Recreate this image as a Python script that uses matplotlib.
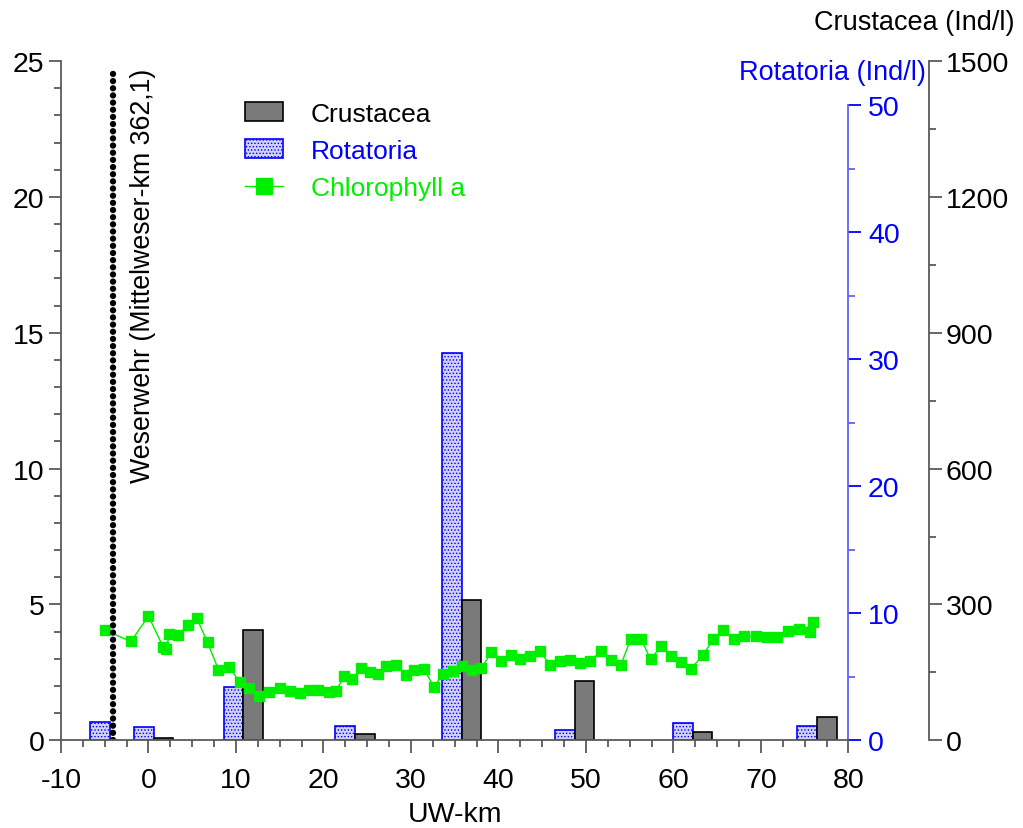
import numpy as np
import matplotlib
matplotlib.use("Agg")
import matplotlib.pyplot as plt
from matplotlib.lines import Line2D
from matplotlib.patches import Patch
from matplotlib.ticker import MultipleLocator

plt.rcParams['font.family'] = ['Liberation Sans', 'DejaVu Sans']
plt.rcParams['hatch.linewidth'] = 0.6
plt.rcParams['axes.unicode_minus'] = False

# sampling stations (UW-km) with zooplankton counts
stations = [-4.4, 0.6, 10.85, 23.6, 35.8, 48.7, 62.2, 76.4]
rotatoria = [1.42, 1.02, 4.2, 1.15, 30.5, 0.79, 1.34, 1.13]
crustacea = [np.nan, 4.4, 244, 14, 310, 130, 19, 51]

# chlorophyll a profile along the river
chl_km = [-5.0, -2.0, 0.0, 1.7, 2.0, 2.4, 3.4, 4.5, 5.5, 6.75,
          8.0, 9.25, 10.45, 11.5, 12.65, 13.8, 15.0, 16.2, 17.3, 18.4,
          19.4, 20.6, 21.45, 22.4, 23.3, 24.3, 25.3, 26.2, 27.2, 28.3,
          29.4, 30.4, 31.5, 32.6, 33.7, 34.75, 35.85, 37.0, 38.05, 39.2,
          40.3, 41.4, 42.5, 43.6, 44.7, 45.9, 47.0, 48.2, 49.3, 50.5,
          51.7, 52.9, 54.0, 55.1, 56.3, 57.4, 58.6, 59.75, 60.9, 62.0,
          63.35, 64.55, 65.7, 66.9, 68.1, 69.45, 70.65, 71.85, 73.1, 74.3,
          75.55, 75.95]
chl_val = [4.05, 3.64, 4.57, 3.42, 3.35, 3.9, 3.89, 4.23, 4.51, 3.6,
           2.6, 2.68, 2.13, 1.92, 1.64, 1.76, 1.91, 1.81, 1.75, 1.84,
           1.85, 1.77, 1.83, 2.37, 2.24, 2.65, 2.5, 2.44, 2.72, 2.76,
           2.39, 2.6, 2.62, 1.97, 2.44, 2.55, 2.75, 2.59, 2.65, 3.25,
           2.93, 3.14, 3.0, 3.09, 3.29, 2.78, 2.93, 2.95, 2.84, 2.93,
           3.27, 2.95, 2.78, 3.72, 3.71, 2.98, 3.47, 3.11, 2.88, 2.63,
           3.13, 3.72, 4.06, 3.71, 3.82, 3.84, 3.81, 3.81, 4.03, 4.08,
           3.98, 4.34]

weir_km = -4.1
weir_top = 24.77

grey = '#5a5a5a'
blue = '#0000ff'
green = '#00ee00'
rot_face = '#d0d0fa'
bw = 2.25

fig = plt.figure(figsize=(10.23, 8.29), dpi=100)
ax = fig.add_axes([0.0596, 0.1058, 0.7698, 0.8194])
ax_rot = ax.twinx()
ax_cru = ax.twinx()

# bars
ax_rot.bar(stations, rotatoria, width=-bw, align='edge', facecolor=rot_face,
           edgecolor=blue, hatch='.....', linewidth=1.2)
ax_cru.bar(stations, crustacea, width=bw, align='edge', facecolor='#7a7a7a',
           edgecolor='black', linewidth=1.2)

# chlorophyll + weir on main axis, kept on top
ax.set_zorder(3)
ax.patch.set_visible(False)
ax.plot(chl_km, chl_val, color=green, lw=1.0, marker='s', ms=6.5,
        mfc=green, mec=green)
ax.plot([weir_km, weir_km], [0, weir_top], color='black', lw=4.6,
        linestyle=(0, (0.001, 1.12)), dash_capstyle='round')
ax.text(weir_km + 3.45, 24.75, 'Weserwehr (Mittelweser-km 362,1)', rotation=90,
        ha='center', va='top', fontsize=19.3)

# main axis
ax.set_xlim(-10, 80)
ax.set_ylim(0, 25)
ax.xaxis.set_major_locator(MultipleLocator(10))
ax.xaxis.set_minor_locator(MultipleLocator(2.5))
ax.yaxis.set_major_locator(MultipleLocator(5))
ax.yaxis.set_minor_locator(MultipleLocator(1))
for s in ['top', 'right']:
    ax.spines[s].set_visible(False)
for s in ['left', 'bottom']:
    ax.spines[s].set_color(grey)
    ax.spines[s].set_linewidth(1.3)
ax.tick_params(which='major', length=9, width=1.3, color=grey, labelsize=20.5)
ax.tick_params(which='minor', length=5, width=1.3, color=grey)
ax.tick_params(axis='x', which='major', pad=10)
ax.tick_params(axis='y', which='major', pad=3)
ax.set_xlabel('UW-km', fontsize=20.5, labelpad=6)

# rotatoria axis
for s in ['top', 'left', 'bottom']:
    ax_rot.spines[s].set_visible(False)
ax_rot.spines['right'].set_color('#6060ff')
ax_rot.spines['right'].set_linewidth(1.3)
ax_rot.spines['right'].set_bounds(0, 50)
ax_rot.set_yticks([0, 10, 20, 30, 40, 50])
ax_rot.yaxis.set_minor_locator(MultipleLocator(5))
ax_rot.tick_params(which='major', length=9, width=1.3, color=blue,
                   labelcolor=blue, labelsize=20.5, pad=5)
ax_rot.tick_params(which='minor', length=5, width=1.3, color='#6060ff')
ax_rot.set_ylim(0, 53.46)

# crustacea axis
ax_cru.set_ylim(0, 1500)
for s in ['top', 'left', 'bottom']:
    ax_cru.spines[s].set_visible(False)
ax_cru.spines['right'].set_position(('axes', 1.1022))
ax_cru.spines['right'].set_color(grey)
ax_cru.spines['right'].set_linewidth(1.3)
ax_cru.yaxis.set_major_locator(MultipleLocator(300))
ax_cru.yaxis.set_minor_locator(MultipleLocator(150))
ax_cru.tick_params(which='major', length=9, width=1.3, color=grey,
                   labelsize=20.5, pad=3)
ax_cru.tick_params(which='minor', length=5, width=1.3, color=grey)

# axis titles
fig.text(1015 / 1023, 1 - 23 / 829, 'Crustacea (Ind/l)', ha='right',
         va='center', fontsize=19.5)
fig.text(926 / 1023, 1 - 73 / 829, 'Rotatoria (Ind/l)', ha='right',
         va='center', fontsize=19.5, color=blue)

# legend
handles = [Patch(facecolor='#7a7a7a', edgecolor='black', linewidth=1.2),
           Patch(facecolor=rot_face, edgecolor=blue, hatch='.....', linewidth=1.2),
           Line2D([], [], color=green, lw=1.0, marker='s', ms=11, mfc=green, mec=green)]
leg = ax.legend(handles, ['Crustacea', 'Rotatoria', 'Chlorophyll a'],
                loc='upper left', bbox_to_anchor=(0.2035, 0.975), frameon=False,
                fontsize=19, handlelength=1.45, handletextpad=1.05, labelspacing=0.5,
                labelcolor=['black', blue, green])

fig.savefig('out.png', dpi=100)
